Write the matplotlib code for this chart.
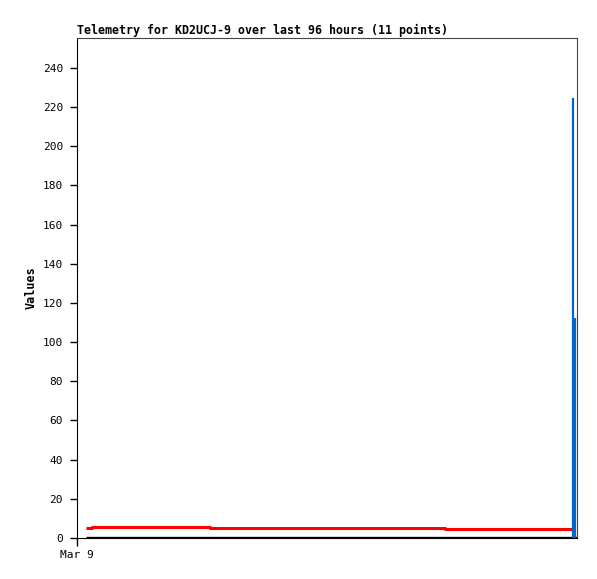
import matplotlib
matplotlib.use('Agg')
import matplotlib.pyplot as plt

# hours since start of window (Mar 9 00:00), 96 hour window
red_hours = [1.7, 2.9, 25.5, 70.7, 95.2]
red_values = [5.0, 5.8, 5.3, 4.7, 4.7]

blue_hours = [95.3, 95.6]
blue_values = [224.5, 112.5]

zero_hours = [1.7, 96.0]
zero_values = [0, 0]

y_ticks = list(range(0, 241, 20))
x_tick_labels = ['Mar 9']

fig = plt.figure(figsize=(5.97, 5.79), dpi=100)
ax = fig.add_axes([77 / 597, 41 / 579, 500 / 597, 500 / 579])

mono = 'DejaVu Sans Mono'

# black line at zero
ax.plot(zero_hours, zero_values, color='black', linewidth=2.4, solid_capstyle='butt', zorder=3)

# red step series
ax.plot(red_hours, red_values, color='#ff0000', linewidth=2.2, drawstyle='steps-post',
        solid_capstyle='butt', zorder=4)

# blue spikes
for h, v in zip(blue_hours, blue_values):
    ax.vlines(h, 0, v, color='#0066cc', linewidth=1.6, zorder=4)

ax.set_xlim(0, 96)
ax.set_ylim(0, 255.3)
ax.set_yticks(y_ticks)
ax.set_yticklabels([str(t) for t in y_ticks], family=mono, fontsize=8)
ax.set_xticks([0])
ax.set_xticklabels(x_tick_labels, family=mono, fontsize=8)
ax.tick_params(axis='y', length=5, width=1, direction='out', pad=5)
ax.tick_params(axis='x', length=6, width=1, direction='out', pad=3)

ax.spines['left'].set_color('black')
ax.spines['bottom'].set_color('black')
ax.spines['top'].set_color('#444444')
ax.spines['right'].set_color('#444444')

ax.set_ylabel('Values', family=mono, fontsize=8.5, fontweight='bold', labelpad=4)
ax.set_title('Telemetry for KD2UCJ-9 over last 96 hours (11 points)', family=mono,
             fontsize=8.35, fontweight='bold', loc='left', pad=3)

fig.savefig('out.png', dpi=100)
